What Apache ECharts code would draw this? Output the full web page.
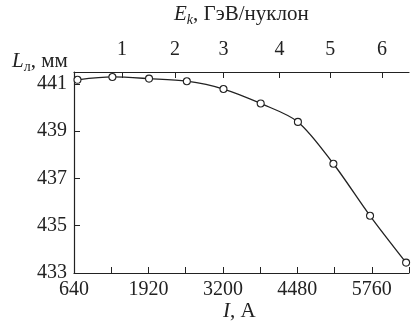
<!DOCTYPE html>
<html>
<head>
<meta charset="utf-8">
<script src="https://cdn.jsdelivr.net/npm/echarts@6/dist/echarts.min.js"></script>
<style>
  html, body { margin: 0; padding: 0; background: #fff; }
  #chart { width: 412px; height: 329px; }
</style>
</head>
<body>
<div id="chart"></div>
<script>
// current I (A) vs length L (mm)
const currentI = [700, 1300, 1930, 2580, 3210, 3850, 4490, 5100, 5730, 6350];
const lengthL = [441.17, 441.29, 441.22, 441.11, 440.78, 440.17, 439.39, 437.62, 435.42, 433.44];
// top axis: kinetic energy ticks and the current they sit at
const energyTicks = ['1', '2', '3', '4', '5', '6'];
const energyAtI = [1464, 2378, 3212, 4172, 5046, 5934];

const ink = '#222';
const font = '"Liberation Serif", "DejaVu Serif", serif';

const chart = echarts.init(document.getElementById('chart'));

chart.setOption({
    animation: false,
    textStyle: { fontFamily: font, color: ink },
    grid: { left: 74, right: -2, top: 72, bottom: 56 },
    graphic: [
        {
            type: 'text', left: 174, top: 4,
            style: {
                text: '{i|E}{s|k}{n|, ГэВ/нуклон}',
                rich: {
                    i: { fontFamily: font, fontSize: 21, fontStyle: 'italic', fill: ink },
                    s: { fontFamily: font, fontSize: 14, fontStyle: 'italic', fill: ink, padding: [11, 0, 0, 0] },
                    n: { fontFamily: font, fontSize: 21, fill: ink }
                }
            }
        },
        {
            type: 'text', left: 12, top: 51,
            style: {
                text: '{i|L}{s|л}{n|, мм}',
                rich: {
                    i: { fontFamily: font, fontSize: 21, fontStyle: 'italic', fill: ink },
                    s: { fontFamily: font, fontSize: 14, fill: ink, padding: [11, 0, 0, 0] },
                    n: { fontFamily: font, fontSize: 21, fill: ink }
                }
            }
        },
        {
            type: 'text', left: 223, top: 301,
            style: {
                text: '{i|I}{n|, А}',
                rich: {
                    i: { fontFamily: font, fontSize: 21, fontStyle: 'italic', fill: ink },
                    n: { fontFamily: font, fontSize: 21, fill: ink }
                }
            }
        }
    ],
    xAxis: [
        {
            type: 'value',
            position: 'bottom',
            min: 640,
            max: 6400,
            interval: 640,
            splitLine: { show: false },
            axisLine: { lineStyle: { color: ink, width: 1.2 } },
            axisTick: { inside: true, length: 6, lineStyle: { color: ink } },
            axisLabel: {
                color: ink, fontSize: 20, fontFamily: font, margin: 7,
                formatter: v => ((v - 640) % 1280 === 0 && v < 6400) ? String(v) : ''
            }
        },
        {
            type: 'value',
            position: 'top',
            min: 640,
            max: 6400,
            splitLine: { show: false },
            axisLine: { lineStyle: { color: ink, width: 1.2 } },
            axisTick: { inside: true, length: 6, customValues: energyAtI, lineStyle: { color: ink } },
            axisLabel: {
                color: ink, fontSize: 20, fontFamily: font, margin: 12,
                customValues: energyAtI,
                formatter: v => {
                    const k = energyAtI.indexOf(v);
                    return k >= 0 ? energyTicks[k] : '';
                }
            }
        }
    ],
    yAxis: {
        type: 'value',
        min: 433,
        max: 441.5,
        interval: 2,
        splitLine: { show: false },
        axisLine: { show: true, lineStyle: { color: ink, width: 1.2 } },
        axisTick: { show: true, inside: true, length: 6, lineStyle: { color: ink } },
        axisLabel: { color: ink, fontSize: 20, fontFamily: font, margin: 7 }
    },
    series: [
        {
            type: 'line',
            xAxisIndex: 0,
            data: currentI.map((x, i) => [x, lengthL[i]]),
            smooth: 0.3,
            symbol: 'circle',
            symbolSize: 7,
            itemStyle: { color: '#fff', borderColor: ink, borderWidth: 1.1 },
            lineStyle: { color: ink, width: 1.3 }
        }
    ]
});
</script>
</body>
</html>
